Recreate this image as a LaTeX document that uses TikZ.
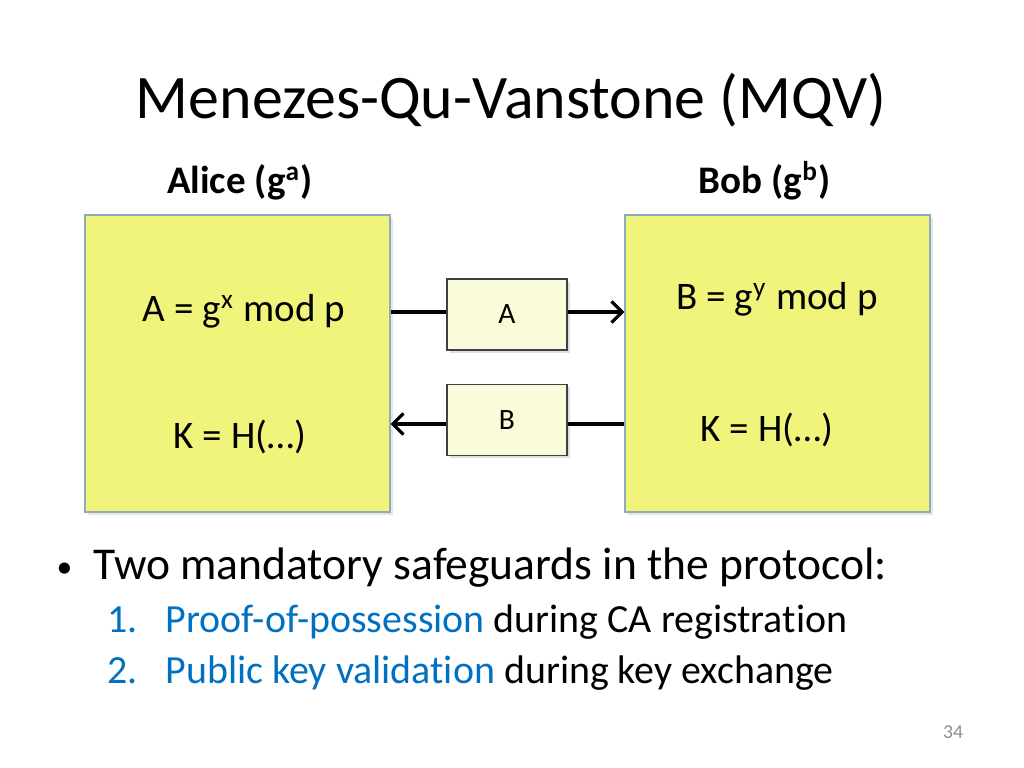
\documentclass[tikz,border=0pt]{standalone}
\usepackage{fontspec}
\setmainfont{Carlito}[Ligatures=NoCommon]
\usetikzlibrary{arrows.meta,shadows}
\definecolor{boxyellow}{HTML}{F0F47A}
\definecolor{boxedge}{HTML}{8FAAB8}
\definecolor{msgfill}{HTML}{FAFBDB}
\definecolor{linkblue}{HTML}{0070C0}
\definecolor{pagegray}{HTML}{8C8C8C}
\newlength{\pxu}
\setlength{\pxu}{0.01cm}
\tikzset{
  party/.style={draw=boxedge, fill=boxyellow, line width=0.4pt, minimum width=305\pxu, minimum height=297\pxu, inner sep=0pt, drop shadow={shadow xshift=0.8pt, shadow yshift=-0.8pt, opacity=0.2}},
  msg/.style={draw=black!75, fill=msgfill, line width=0.4pt, minimum width=120\pxu, minimum height=71\pxu, inner sep=0pt, drop shadow={shadow xshift=0.8pt, shadow yshift=-0.8pt, opacity=0.25}, font=\fontsize{8.4}{9}\selectfont},
  boxtext/.style={font=\fontsize{11.1}{13}\selectfont, inner sep=0pt},
  partylabel/.style={font=\bfseries\fontsize{11.1}{13}\selectfont, inner sep=0pt},
  flow/.style={line width=0.9pt, -{Straight Barb[length=3pt,width=6pt,line width=0.9pt]}},
  plain/.style={inner sep=0pt, anchor=base west},
  subitem/.style={plain, font=\fontsize{11.35}{13}\selectfont},
}
\begin{document}
\begin{tikzpicture}[x=0.01cm,y=-0.01cm]
\useasboundingbox (0,0) rectangle (1024,768);
% title
\node[inner sep=0pt, anchor=base, font=\fontsize{17.6}{20}\selectfont] (title) at (511,119) {Menezes-Qu-Vanstone (MQV)};
% party labels
\node[partylabel, anchor=base] (alicel) at (240,194) {Alice (g\textsuperscript{a})};
\node[partylabel, anchor=base] (bobl) at (765,194) {Bob (g\textsuperscript{b})};
% party boxes
\node[party] (alice) at (237.5,363.5) {};
\node[party] (bob) at (777.5,363.5) {};
% message boxes
\node[msg] (ma) at (507,314.5) {A};
\node[msg] (mb) at (507,420) {B};
% texts in boxes
\node[boxtext, anchor=base] (ta) at (244,322) {A = g\textsuperscript{x} mod p};
\node[boxtext, anchor=base] (tk1) at (240,449) {K = H(…)};
\node[boxtext, anchor=base] (tb) at (777,310) {B = g\textsuperscript{y} mod p};
\node[boxtext, anchor=base] (tk2) at (767,442) {K = H(…)};
% connectors
\coordinate (a1) at (alice.east |- 0,312);
\coordinate (a2) at (bob.west |- 0,312);
\coordinate (b1) at (bob.west |- 0,424);
\coordinate (b2) at (alice.east |- 0,424);
\draw[line width=0.9pt] (a1) -- (ma.west |- a1);
\draw[flow] (ma.east |- a1) -- (a2);
\draw[line width=0.9pt] (b1) -- (mb.east |- b1);
\draw[flow] (mb.west |- b1) -- (b2);
% bullets
\node[plain, font=\fontsize{9}{13}\selectfont] (bul) at (56,578) {•};
\node[plain, font=\fontsize{12.95}{15}\selectfont] (b1t) at (93,580) {Two mandatory safeguards in the protocol:};
\node[subitem, text=linkblue] (n1) at (107,633) {1.};
\node[subitem] (i1) at (165,633) {\textcolor{linkblue}{Proof-of-possession} during CA registration};
\node[subitem, text=linkblue] (n2) at (107,684) {2.};
\node[subitem] (i2) at (165,684) {\textcolor{linkblue}{Public key validation} during key exchange};
% page number
\node[inner sep=0pt, anchor=base, font=\fontsize{5.6}{6}\selectfont, text=pagegray] (pg) at (953,739) {34};
\end{tikzpicture}
\end{document}
